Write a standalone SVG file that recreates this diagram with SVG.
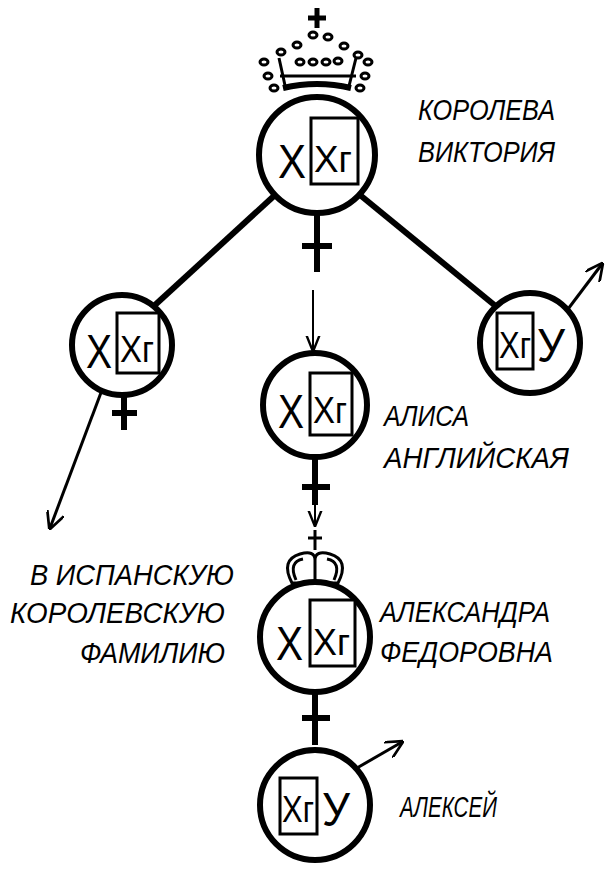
<svg xmlns="http://www.w3.org/2000/svg" width="613" height="880" viewBox="0 0 613 880">
<style>
.c{fill:#fff;stroke:#000;stroke-width:6}
.b{fill:#fff;stroke:#000;stroke-width:3}
.g{font-family:"Liberation Sans",Arial,sans-serif;font-size:48px;fill:#000}
.s{font-family:"Liberation Sans",Arial,sans-serif;font-size:36px;fill:#000}
.l{font-family:"Liberation Sans",Arial,sans-serif;font-size:29px;font-style:italic;fill:#000}
.k{stroke:#000;stroke-width:6;fill:none}
.t{stroke:#000;stroke-width:2;fill:none}
</style>
<defs>
<marker id="a" viewBox="0 0 10 10" refX="9" refY="5" markerWidth="6" markerHeight="6" orient="auto"><path d="M0,0 L10,5 L0,10" fill="none" stroke="#000" stroke-width="1.5"/></marker>
<marker id="as" viewBox="0 0 10 10" refX="9" refY="5" markerWidth="8" markerHeight="8" orient="auto"><path d="M0,1 L10,5 L0,9" fill="none" stroke="#000" stroke-width="1.5"/></marker>
</defs>
<g id="connectors">
<line class="k" x1="275" y1="195" x2="155" y2="305"/>
<line class="k" x1="360" y1="195" x2="498" y2="308"/>
<line class="t" x1="313" y1="290" x2="313" y2="350" marker-end="url(#as)"/>
<line class="t" x1="315" y1="505" x2="315" y2="525" marker-end="url(#as)"/>
<line x1="105" y1="382" x2="50" y2="528" stroke="#000" stroke-width="3" marker-end="url(#a)"/>
</g>
<g id="victoria">
<g stroke="#000" fill="none" stroke-width="3">
<path d="M283,88 Q317,80 351,88" stroke-width="6"/>
<line x1="280" y1="76" x2="356" y2="76"/>
<path d="M286,90 L279,58 M348,90 L356,58"/>
<line x1="317" y1="8" x2="317" y2="28" stroke-width="5"/><line x1="308" y1="18" x2="326" y2="18" stroke-width="5"/>
<ellipse cx="297" cy="45" rx="4" ry="3"/><ellipse cx="313" cy="35" rx="4" ry="3"/><ellipse cx="328" cy="37" rx="4" ry="3"/><ellipse cx="344" cy="46" rx="4" ry="3"/>
<ellipse cx="300" cy="62" rx="4" ry="3"/><ellipse cx="313" cy="62" rx="4" ry="3"/><ellipse cx="326" cy="62" rx="4" ry="3"/><ellipse cx="338" cy="61" rx="4" ry="3"/>
<ellipse cx="281" cy="52" rx="4" ry="3"/><ellipse cx="264" cy="62" rx="4" ry="3"/><ellipse cx="268" cy="76" rx="4" ry="3"/><ellipse cx="274" cy="88" rx="4" ry="3"/>
<ellipse cx="358" cy="55" rx="4" ry="3"/><ellipse cx="368" cy="62" rx="4" ry="3"/><ellipse cx="365" cy="76" rx="4" ry="3"/><ellipse cx="360" cy="88" rx="4" ry="3"/>
</g>
<line class="k" x1="317" y1="210" x2="317" y2="272"/><line class="k" x1="302" y1="246" x2="332" y2="246"/>
<circle class="c" cx="317" cy="155" r="58"/>
<rect class="b" x="311" y="118" width="47" height="66"/>
<text class="g" x="278" y="178" textLength="28" lengthAdjust="spacingAndGlyphs">X</text>
<text class="s" x="314" y="172" textLength="38" lengthAdjust="spacingAndGlyphs">Xг</text>
<text class="l" x="418" y="120" textLength="137" lengthAdjust="spacingAndGlyphs">КОРОЛЕВА</text>
<text class="l" x="418" y="162" textLength="137" lengthAdjust="spacingAndGlyphs">ВИКТОРИЯ</text>
</g>
<g id="left">
<line class="k" x1="124" y1="392" x2="124" y2="430"/><line class="k" x1="112" y1="413" x2="137" y2="413"/>
<circle class="c" cx="122" cy="345" r="50"/>
<rect class="b" x="117" y="313" width="42" height="60"/>
<text class="g" x="86" y="368" textLength="26" lengthAdjust="spacingAndGlyphs">X</text>
<text class="s" x="120" y="362" textLength="34" lengthAdjust="spacingAndGlyphs">Xг</text>
<text class="l" x="30" y="585" textLength="204" lengthAdjust="spacingAndGlyphs">В ИСПАНСКУЮ</text>
<text class="l" x="10" y="623" textLength="215" lengthAdjust="spacingAndGlyphs">КОРОЛЕВСКУЮ</text>
<text class="l" x="80" y="663" textLength="145" lengthAdjust="spacingAndGlyphs">ФАМИЛИЮ</text>
</g>
<g id="right">
<line x1="562" y1="317" x2="602" y2="264" stroke="#000" stroke-width="3" marker-end="url(#a)"/>
<circle class="c" cx="530" cy="343" r="50"/>
<rect class="b" x="497" y="313" width="36" height="56"/>
<text class="s" x="499" y="358" textLength="32" lengthAdjust="spacingAndGlyphs">Xг</text>
<text class="g" x="537" y="362" textLength="28" lengthAdjust="spacingAndGlyphs">У</text>
</g>
<g id="alice">
<line class="k" x1="315" y1="455" x2="315" y2="505"/><line class="k" x1="302" y1="487" x2="330" y2="487"/>
<circle class="c" cx="315" cy="405" r="52"/>
<rect class="b" x="310" y="373" width="42" height="62"/>
<text class="g" x="278" y="428" textLength="26" lengthAdjust="spacingAndGlyphs">X</text>
<text class="s" x="313" y="423" textLength="34" lengthAdjust="spacingAndGlyphs">Xг</text>
<text class="l" x="384" y="426" textLength="85" lengthAdjust="spacingAndGlyphs">АЛИСА</text>
<text class="l" x="384" y="468" textLength="185" lengthAdjust="spacingAndGlyphs">АНГЛИЙСКАЯ</text>
</g>
<g id="alexandra">
<g stroke="#000" stroke-width="3" fill="none">
<line x1="315" y1="530" x2="315" y2="550"/><line x1="308" y1="538" x2="322" y2="538"/>
<path d="M292,583 Q280,560 300,554 Q315,550 315,560 Q315,550 330,554 Q350,560 338,583 Z"/>
<path d="M296,580 Q288,562 303,559 M334,580 Q342,562 327,559 M315,560 L315,583"/>
</g>
<line class="k" x1="315" y1="690" x2="315" y2="745"/><line class="k" x1="302" y1="718" x2="330" y2="718"/>
<circle class="c" cx="315" cy="637" r="55"/>
<rect class="b" x="310" y="600" width="45" height="66"/>
<text class="g" x="276" y="660" textLength="27" lengthAdjust="spacingAndGlyphs">X</text>
<text class="s" x="313" y="655" textLength="37" lengthAdjust="spacingAndGlyphs">Xг</text>
<text class="l" x="380" y="622" textLength="170" lengthAdjust="spacingAndGlyphs">АЛЕКСАНДРА</text>
<text class="l" x="380" y="662" textLength="173" lengthAdjust="spacingAndGlyphs">ФЕДОРОВНА</text>
</g>
<g id="alexei">
<line x1="350" y1="772" x2="402" y2="742" stroke="#000" stroke-width="3" marker-end="url(#a)"/>
<circle class="c" cx="315" cy="805" r="55"/>
<rect class="b" x="280" y="778" width="37" height="56"/>
<text class="s" x="282" y="822" textLength="32" lengthAdjust="spacingAndGlyphs">Xг</text>
<text class="g" x="322" y="826" textLength="28" lengthAdjust="spacingAndGlyphs">У</text>
<text class="l" x="400" y="817" textLength="97" lengthAdjust="spacingAndGlyphs">АЛЕКСЕЙ</text>
</g>
</svg>
